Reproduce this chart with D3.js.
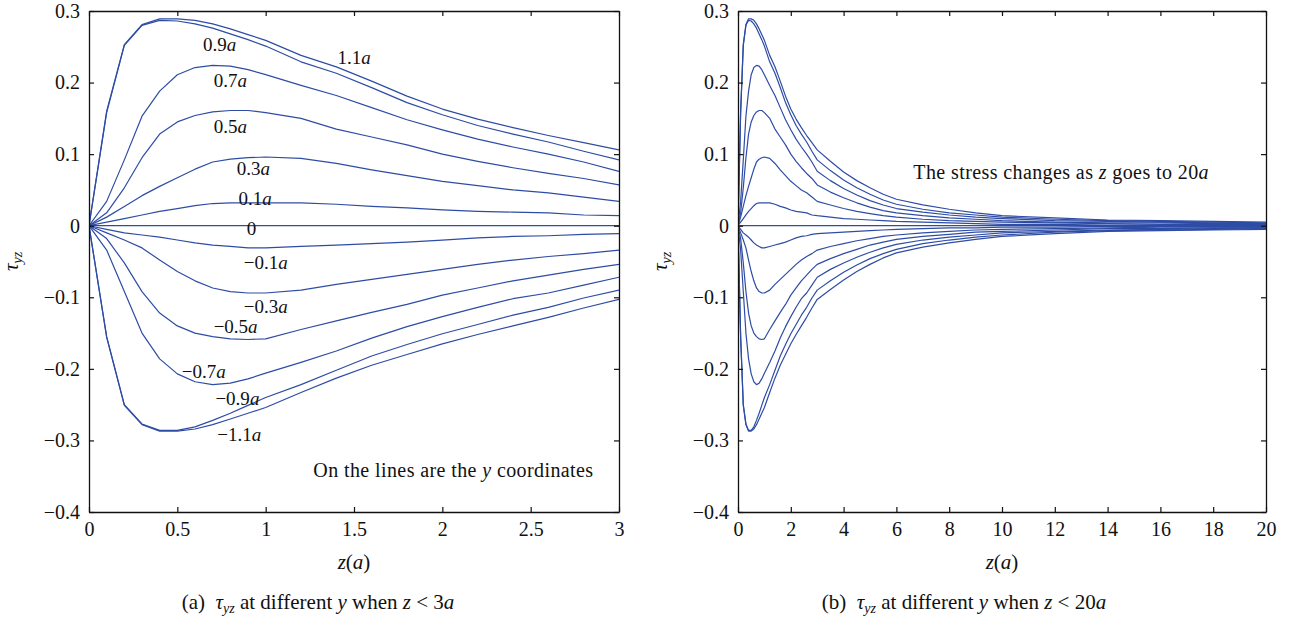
<!DOCTYPE html>
<html>
<head>
<meta charset="utf-8">
<script src="https://cdn.jsdelivr.net/npm/d3@7"></script>
<style>
  body { margin: 0; background: #fff; }
  text { font-family: 'Liberation Serif', 'Times New Roman', serif; fill: #111; }
</style>
</head>
<body>
<svg id="chart" width="1289" height="619"></svg>
<script>
// ── DATA ────────────────────────────────────────────
// z in units of a; tau_yz for lines at different y
const Z = [0, 0.1, 0.2, 0.3, 0.4, 0.5, 0.6, 0.7, 0.8, 0.9, 1.0, 1.2, 1.4, 1.6, 1.8, 2.0, 2.2, 2.4, 2.6, 2.8, 3.0,
           3.5, 4, 4.5, 5, 5.5, 6, 7, 8, 9, 10, 12, 14, 16, 18, 20];

const P11 = [0, 0.160, 0.253, 0.281, 0.289, 0.289, 0.287, 0.282, 0.275, 0.267, 0.259, 0.238, 0.222, 0.202, 0.181, 0.163, 0.149, 0.137, 0.126, 0.116, 0.106,
             0.090, 0.075, 0.063, 0.053, 0.044, 0.037, 0.029, 0.023, 0.018, 0.014, 0.011, 0.008, 0.007, 0.006, 0.005];
const P09 = [0, 0.158, 0.252, 0.280, 0.287, 0.286, 0.282, 0.276, 0.268, 0.260, 0.251, 0.229, 0.213, 0.193, 0.172, 0.155, 0.140, 0.128, 0.117, 0.104, 0.092,
             0.077, 0.064, 0.053, 0.044, 0.036, 0.030, 0.023, 0.018, 0.015, 0.012, 0.009, 0.007, 0.006, 0.005, 0.004];
const P07 = [0, 0.034, 0.092, 0.153, 0.188, 0.211, 0.221, 0.224, 0.223, 0.218, 0.211, 0.196, 0.182, 0.165, 0.148, 0.134, 0.121, 0.110, 0.100, 0.089, 0.076,
             0.063, 0.052, 0.043, 0.035, 0.029, 0.024, 0.019, 0.015, 0.012, 0.010, 0.007, 0.006, 0.005, 0.004, 0.003];
const P05 = [0, 0.018, 0.053, 0.095, 0.128, 0.145, 0.154, 0.159, 0.161, 0.161, 0.158, 0.150, 0.135, 0.124, 0.113, 0.100, 0.090, 0.081, 0.073, 0.066, 0.057,
             0.047, 0.039, 0.032, 0.026, 0.021, 0.018, 0.014, 0.011, 0.009, 0.007, 0.005, 0.004, 0.004, 0.003, 0.003];
const P03 = [0, 0.012, 0.027, 0.042, 0.055, 0.067, 0.079, 0.089, 0.093, 0.095, 0.096, 0.094, 0.087, 0.078, 0.070, 0.062, 0.056, 0.050, 0.046, 0.040, 0.034,
             0.029, 0.024, 0.020, 0.017, 0.014, 0.012, 0.009, 0.007, 0.006, 0.005, 0.004, 0.003, 0.002, 0.002, 0.002];
const P01 = [0, 0.005, 0.010, 0.015, 0.020, 0.024, 0.028, 0.031, 0.032, 0.032, 0.032, 0.032, 0.030, 0.027, 0.025, 0.022, 0.020, 0.019, 0.018, 0.015, 0.014,
             0.012, 0.010, 0.009, 0.008, 0.007, 0.006, 0.005, 0.004, 0.003, 0.002, 0.002, 0.001, 0.001, 0.001, 0.001];
const Y00 = [0, 0, 0, 0, 0, 0, 0, 0, 0, 0, 0, 0, 0, 0, 0, 0, 0, 0, 0, 0, 0,
             0, 0, 0, 0, 0, 0, 0, 0, 0, 0, 0, 0, 0, 0, 0];
const N01 = [0, -0.005, -0.010, -0.013, -0.016, -0.020, -0.024, -0.027, -0.029, -0.031, -0.031, -0.029, -0.027, -0.025, -0.023, -0.020, -0.017, -0.015, -0.014, -0.012, -0.011,
             -0.010, -0.009, -0.008, -0.007, -0.006, -0.005, -0.004, -0.003, -0.003, -0.002, -0.002, -0.001, -0.001, -0.001, -0.001];
const N03 = [0, -0.010, -0.020, -0.031, -0.048, -0.064, -0.077, -0.087, -0.092, -0.094, -0.094, -0.090, -0.082, -0.075, -0.068, -0.061, -0.054, -0.048, -0.043, -0.039, -0.034,
             -0.029, -0.025, -0.021, -0.018, -0.015, -0.013, -0.010, -0.008, -0.006, -0.005, -0.004, -0.003, -0.002, -0.002, -0.002];
const N05 = [0, -0.018, -0.052, -0.092, -0.122, -0.140, -0.150, -0.155, -0.158, -0.159, -0.158, -0.145, -0.133, -0.121, -0.110, -0.097, -0.087, -0.077, -0.069, -0.061, -0.054,
             -0.046, -0.039, -0.033, -0.027, -0.023, -0.019, -0.015, -0.012, -0.009, -0.008, -0.006, -0.004, -0.004, -0.003, -0.003];
const N07 = [0, -0.034, -0.092, -0.150, -0.186, -0.207, -0.218, -0.222, -0.220, -0.214, -0.206, -0.191, -0.175, -0.157, -0.141, -0.127, -0.114, -0.102, -0.094, -0.083, -0.072,
             -0.061, -0.052, -0.044, -0.037, -0.031, -0.026, -0.020, -0.016, -0.013, -0.010, -0.008, -0.006, -0.005, -0.004, -0.003];
const N09 = [0, -0.155, -0.250, -0.277, -0.286, -0.286, -0.281, -0.272, -0.262, -0.251, -0.240, -0.222, -0.202, -0.182, -0.166, -0.151, -0.138, -0.125, -0.114, -0.101, -0.090,
             -0.077, -0.065, -0.055, -0.046, -0.039, -0.033, -0.025, -0.020, -0.016, -0.013, -0.009, -0.007, -0.006, -0.005, -0.004];
const N11 = [0, -0.156, -0.251, -0.278, -0.287, -0.287, -0.284, -0.278, -0.270, -0.262, -0.254, -0.233, -0.213, -0.195, -0.180, -0.165, -0.152, -0.140, -0.128, -0.115, -0.103,
             -0.089, -0.076, -0.064, -0.054, -0.045, -0.038, -0.030, -0.024, -0.019, -0.015, -0.011, -0.008, -0.007, -0.006, -0.005];

const SERIES = [P11, P09, P07, P05, P03, P01, Y00, N01, N03, N05, N07, N09, N11];

// line labels (y coordinate), placed at (z, tau)
const LINE_LABELS = [
  { t: '0.9',   z: 0.74, v: 0.253 },
  { t: '1.1',   z: 1.50, v: 0.235 },
  { t: '0.7',   z: 0.80, v: 0.203 },
  { t: '0.5',   z: 0.80, v: 0.139 },
  { t: '0.3',   z: 0.93, v: 0.080 },
  { t: '0.1',   z: 0.94, v: 0.038 },
  { t: '0',     z: 0.92, v: -0.003 },
  { t: '\u22120.1', z: 1.00, v: -0.051 },
  { t: '\u22120.3', z: 1.00, v: -0.112 },
  { t: '\u22120.5', z: 0.83, v: -0.141 },
  { t: '\u22120.7', z: 0.65, v: -0.203 },
  { t: '\u22120.9', z: 0.84, v: -0.241 },
  { t: '\u22121.1', z: 0.85, v: -0.292 }
];

const Y_TICKS  = [-0.4, -0.3, -0.2, -0.1, 0, 0.1, 0.2, 0.3];
const XA_TICKS = [0, 0.5, 1, 1.5, 2, 2.5, 3];
const XB_TICKS = [0, 2, 4, 6, 8, 10, 12, 14, 16, 18, 20];

// ── LAYOUT ──────────────────────────────────────────
const LINE = '#2e4ca5';
const TOP = 11, BOTTOM = 512;
const FS = 20;
const svg = d3.select('#chart');

const fmtY = d => d === 0 ? '0' : d3.format('.1f')(d);
const fmtX = d3.format('~g');

function drawPanel(o) {
  const x = d3.scaleLinear().domain(o.xDomain).range([o.left, o.right]);
  const y = d3.scaleLinear().domain([-0.4, 0.3]).range([BOTTOM, TOP]);
  const g = svg.append('g');

  g.append('clipPath').attr('id', 'clip-' + o.id)
    .append('rect')
    .attr('x', o.left).attr('y', TOP)
    .attr('width', o.right - o.left).attr('height', BOTTOM - TOP);

  const line = d3.line().x(d => x(d[0])).y(d => y(d[1]));
  const lg = g.append('g').attr('clip-path', `url(#clip-${o.id})`);
  SERIES.forEach(s => {
    const pts = Z.map((z, i) => [z, s[i]]).filter(p => p[0] <= o.xDomain[1]);
    lg.append('path')
      .attr('d', line(pts))
      .attr('fill', 'none')
      .attr('stroke', LINE)
      .attr('stroke-width', 1.2)
      .attr('stroke-linejoin', 'round');
  });

  // axes, ticks pointing inward
  const axB = g.append('g').attr('transform', `translate(0,${BOTTOM})`)
    .call(d3.axisBottom(x).tickValues(o.xTicks).tickSizeInner(-5).tickSizeOuter(0).tickPadding(10).tickFormat(fmtX));
  const axT = g.append('g').attr('transform', `translate(0,${TOP})`)
    .call(d3.axisTop(x).tickValues(o.xTicks).tickSizeInner(-5).tickSizeOuter(0).tickFormat(''));
  const axL = g.append('g').attr('transform', `translate(${o.left},0)`)
    .call(d3.axisLeft(y).tickValues(Y_TICKS).tickSizeInner(-5).tickSizeOuter(0).tickPadding(9).tickFormat(fmtY));
  const axR = g.append('g').attr('transform', `translate(${o.right},0)`)
    .call(d3.axisRight(y).tickValues(Y_TICKS).tickSizeInner(-5).tickSizeOuter(0).tickFormat(''));

  [axB, axT, axL, axR].forEach(a => {
    a.attr('font-family', null);
    a.selectAll('path.domain').attr('stroke', '#111').attr('stroke-width', 1.3);
    a.selectAll('line').attr('stroke', '#111').attr('stroke-width', 1.2);
    a.selectAll('text').attr('font-size', FS).attr('fill', '#111')
      .attr('font-family', "'Liberation Serif', 'Times New Roman', serif");
  });

  // y label τ_yz
  const yl = g.append('text')
    .attr('transform', `translate(${o.left - 71},${(TOP + BOTTOM) / 2}) rotate(-90)`)
    .attr('text-anchor', 'middle').attr('font-size', 21);
  yl.append('tspan').attr('font-style', 'italic').text('\u03c4');
  yl.append('tspan').attr('font-style', 'italic').attr('font-size', 14).attr('dy', 4).text('yz');

  // x label z(a)
  const xl = g.append('text')
    .attr('x', (o.left + o.right) / 2).attr('y', 569)
    .attr('text-anchor', 'middle').attr('font-size', 21);
  xl.append('tspan').attr('font-style', 'italic').text('z');
  xl.append('tspan').text('(');
  xl.append('tspan').attr('font-style', 'italic').text('a');
  xl.append('tspan').text(')');

  // caption
  const cap = g.append('text')
    .attr('x', o.capX).attr('y', 609)
    .attr('text-anchor', 'middle').attr('font-size', 21);
  cap.append('tspan').text(o.capTag + '\u2002');
  cap.append('tspan').attr('font-style', 'italic').text('\u03c4');
  cap.append('tspan').attr('font-style', 'italic').attr('font-size', 14).attr('dy', 4).text('yz');
  cap.append('tspan').attr('dy', -4).text(' at different ');
  cap.append('tspan').attr('font-style', 'italic').text('y');
  cap.append('tspan').text(' when ');
  cap.append('tspan').attr('font-style', 'italic').text('z');
  cap.append('tspan').text(' < ' + o.capLimit);
  cap.append('tspan').attr('font-style', 'italic').text('a');

  return { g, x, y };
}

// ── PANEL (a) ───────────────────────────────────────
const A = drawPanel({ id: 'a', left: 89, right: 619, xDomain: [0, 3], xTicks: XA_TICKS,
                      capX: 318, capTag: '(a)', capLimit: '3' });

LINE_LABELS.forEach(l => {
  const t = A.g.append('text')
    .attr('x', A.x(l.z)).attr('y', A.y(l.v)).attr('dy', '0.35em')
    .attr('text-anchor', 'middle').attr('font-size', 19);
  t.append('tspan').text(l.t);
  if (l.t !== '0') t.append('tspan').attr('font-style', 'italic').text('a');
});

const noteA = A.g.append('text')
  .attr('x', A.x(2.063)).attr('y', A.y(-0.341)).attr('dy', '0.35em')
  .attr('text-anchor', 'middle').attr('font-size', 20).attr('letter-spacing', 0.4);
noteA.append('tspan').text('On the lines are the ');
noteA.append('tspan').attr('font-style', 'italic').text('y');
noteA.append('tspan').text(' coordinates');

// ── PANEL (b) ───────────────────────────────────────
const B = drawPanel({ id: 'b', left: 738, right: 1266, xDomain: [0, 20], xTicks: XB_TICKS,
                      capX: 964, capTag: '(b)', capLimit: '20' });

const noteB = B.g.append('text')
  .attr('x', B.x(12.24)).attr('y', B.y(0.0755)).attr('dy', '0.35em')
  .attr('text-anchor', 'middle').attr('font-size', 20).attr('letter-spacing', 0.4);
noteB.append('tspan').text('The stress changes as ');
noteB.append('tspan').attr('font-style', 'italic').text('z');
noteB.append('tspan').text(' goes to 20');
noteB.append('tspan').attr('font-style', 'italic').text('a');
</script>
</body>
</html>
